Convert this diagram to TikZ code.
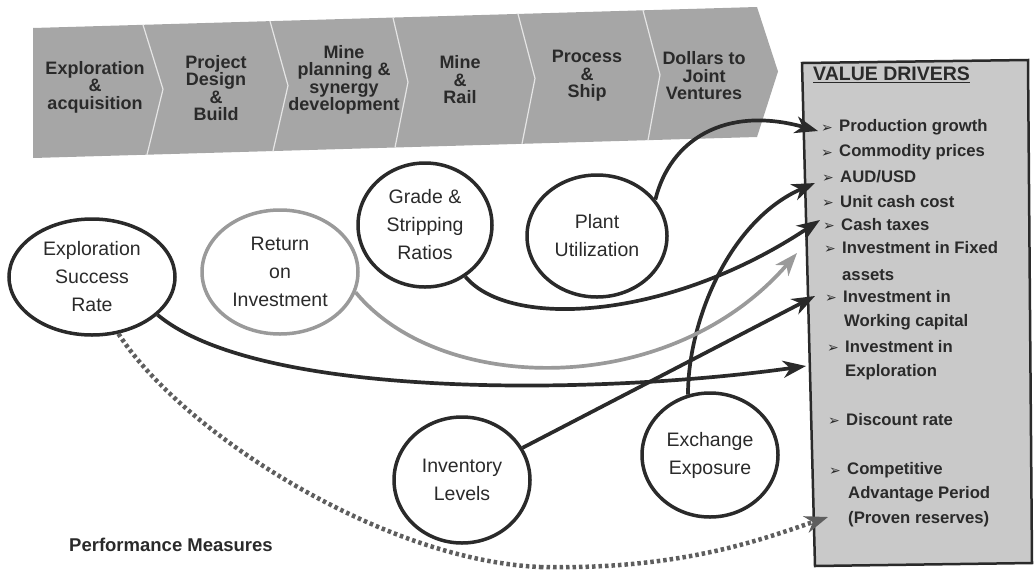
\documentclass[tikz,border=0pt]{standalone}
\usepackage{fontspec}
\setmainfont{Liberation Sans}
\newfontfamily\bulletfont{DejaVu Sans}
\usetikzlibrary{arrows.meta,shapes.geometric}
\definecolor{bandgray}{HTML}{A6A6A6}
\definecolor{boxgray}{HTML}{C9C9C9}
\definecolor{ink}{HTML}{2A2A2A}
\definecolor{roigray}{HTML}{9A9A9A}
\definecolor{dotgray}{HTML}{5E5E5E}
\begin{document}
\begin{tikzpicture}[x=1pt,y=-1pt,
  stage/.style={font=\bfseries\fontsize{18}{17.5}\selectfont, text=ink, align=center, inner sep=0},
  pm/.style={ellipse, draw=ink, line width=3.5pt, text=ink, align=center, inner sep=0, font=\fontsize{19.5}{28}\selectfont},
  drv/.style={anchor=west, font=\bfseries\fontsize{16.7}{18}\selectfont, text=ink, inner sep=0},
  bul/.style={anchor=west, font=\bulletfont\fontsize{14}{14}\selectfont, text=ink, inner sep=0},
  link/.style={line width=3.7pt, draw=ink, -{Stealth[length=23pt,width=17pt,inset=7pt]}},
  divider/.style={draw=white!80!gray, line width=1.2pt},
]
\useasboundingbox (0,0) rectangle (1036,571);

% value chain band
\fill[bandgray] (33,28) -- (757,7) -- (778,71.5) -- (757,137) -- (33,158) -- cycle;
\draw[divider] (143,24.8) -- (163,89.2) -- (147,154.7);
\draw[divider] (270,21.1) -- (288,85.6) -- (273,151.1);
\draw[divider] (393,17.6) -- (408,82.1) -- (395,147.5);
\draw[divider] (518,13.9) -- (535,78.4) -- (522,143.8);
\draw[divider] (643,10.3) -- (660,74.8) -- (648,140.2);

\node[stage] (s1) at (95,87) {Exploration\\\&\\acquisition};
\node[stage] (s2) at (216,88) {Project\\Design\\\&\\Build};
\node[stage] (s3) at (344,80) {Mine\\planning \&\\synergy\\development};
\node[stage] (s4) at (460,80) {Mine\\\&\\Rail};
\node[stage] (s5) at (587,76) {Process\\\&\\Ship};
\node[stage] (s6) at (704,76) {Dollars to\\Joint\\Ventures};

% value drivers box
\draw[ink, line width=2.5pt, fill=boxgray] (802,63) -- (1028,60) -- (1032,563) -- (815,566) -- cycle;
\node[anchor=west, font=\bfseries\fontsize{19.5}{20}\selectfont, text=ink, inner sep=0] (vdt) at (813,75) {\underline{VALUE DRIVERS}};

\node[bul] (b1) at (821,129) {➢}; \node[drv] (d1) at (839,127) {Production growth};
\node[bul] (b2) at (821,154) {➢}; \node[drv] (d2) at (839,152) {Commodity prices};
\node[bul] (b3) at (822,179) {➢}; \node[drv] (d3) at (840,177) {AUD/USD};
\node[bul] (b4) at (822,204) {➢}; \node[drv] (d4) at (840,202) {Unit cash cost};
\node[bul] (b5) at (823,227) {➢}; \node[drv] (d5) at (841,225) {Cash taxes};
\node[bul] (b6) at (824,250) {➢}; \node[drv] (d6) at (842,248) {Investment in Fixed};
\node[drv] (d6b) at (842,275) {assets};
\node[bul] (b7) at (825,299) {➢}; \node[drv] (d7) at (843,297) {Investment in};
\node[drv] (d7b) at (844,322) {Working capital};
\node[bul] (b8) at (827,349) {➢}; \node[drv] (d8) at (845,347) {Investment in};
\node[drv] (d8b) at (845,372) {Exploration};
\node[bul] (b9) at (828,422) {➢}; \node[drv] (d9) at (846,420) {Discount rate};
\node[bul] (b10) at (829,472) {➢}; \node[drv] (d10) at (847,470) {Competitive};
\node[drv] (d10b) at (848,494) {Advantage Period};
\node[drv] (d10c) at (848,519) {(Proven reserves)};

% performance measures
\node[pm, minimum width=166pt, minimum height=116pt] (esr) at (92,277) {Exploration\\Success\\Rate};
\node[pm, draw=roigray, minimum width=156pt, minimum height=124pt] (roi) at (280,272) {Return\\on\\Investment};
\node[pm, minimum width=134pt, minimum height=124pt] (grade) at (425,225) {Grade \&\\Stripping\\Ratios};
\node[pm, minimum width=140pt, minimum height=122pt] (plant) at (597,236) {Plant\\Utilization};
\node[pm, minimum width=136pt, minimum height=126pt] (inv) at (462,480) {Inventory\\Levels};
\node[pm, minimum width=136pt, minimum height=124pt] (exch) at (710,455) {Exchange\\Exposure};

\node[font=\bfseries\fontsize{18.5}{20}\selectfont, text=ink, inner sep=0] (perf) at (171,545) {Performance Measures};

% arrow targets
\coordinate (tpg) at (818,131);
\coordinate (taud) at (815,183);
\coordinate (tcash) at (820,220);
\coordinate (troi) at (797,253);
\coordinate (twc) at (815,296);
\coordinate (texp) at (806,366);
\coordinate (tcap) at (828,517);
\coordinate (dlow) at (540,567);

% connectors
\draw[link] (plant.32) .. controls (670,140) and (725,105) .. (tpg);
\draw[link] (exch.110) .. controls (688,320) and (730,220) .. (taud);
\draw[link] (grade.-52) .. controls (510,330) and (670,320) .. (tcash);
\draw[link, draw=roigray] (roi.-15) .. controls (440,395) and (670,400) .. (troi);
\draw[link] (esr.-30) .. controls (260,400) and (600,395) .. (texp);
\draw[link] (inv.28) -- (twc);
\draw[line width=4.5pt, draw=dotgray, dash pattern=on 3.5pt off 3pt] (esr.-65) .. controls (180,430) and (380,560) .. (dlow);
\draw[line width=4.5pt, draw=dotgray, dash pattern=on 3.5pt off 3pt, -{Stealth[length=23pt,width=17pt,inset=7pt]}] (dlow) .. controls (680,570) and (760,540) .. (tcap);
\end{tikzpicture}
\end{document}
